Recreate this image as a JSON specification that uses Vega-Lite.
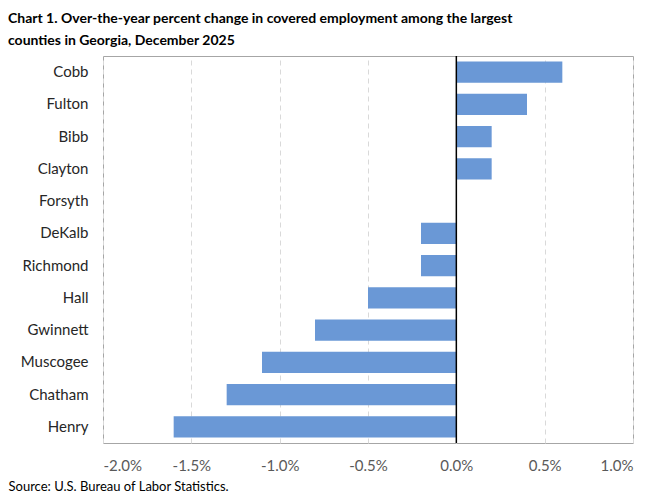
{
  "$schema": "https://vega.github.io/schema/vega-lite/v6.json",
  "width": 530,
  "height": 387,
  "autosize": "none",
  "padding": {"left": 103, "top": 56, "right": 27, "bottom": 50},
  "background": "white",
  "config": {
    "font": "Lato",
    "view": {"stroke": "#a6a6a6", "strokeWidth": 1}
  },
  "title": {
    "text": ["Chart 1. Over-the-year percent change in covered employment among the largest", "counties in Georgia, December 2025"],
    "anchor": "start",
    "frame": "group",
    "dx": -95,
    "dy": 18,
    "font": "Lato",
    "fontSize": 14,
    "fontWeight": "bold",
    "color": "#000000",
    "lineHeight": 22,
    "baseline": "bottom",
    "offset": 11
  },
  "data": {
    "values": [
      {"county": "Cobb", "change": 0.6},
      {"county": "Fulton", "change": 0.4},
      {"county": "Bibb", "change": 0.2},
      {"county": "Clayton", "change": 0.2},
      {"county": "Forsyth", "change": 0.0},
      {"county": "DeKalb", "change": -0.2},
      {"county": "Richmond", "change": -0.2},
      {"county": "Hall", "change": -0.5},
      {"county": "Gwinnett", "change": -0.8},
      {"county": "Muscogee", "change": -1.1},
      {"county": "Chatham", "change": -1.3},
      {"county": "Henry", "change": -1.6}
    ]
  },
  "layer": [
    {
      "mark": {"type": "bar", "color": "#6a98d6"},
      "encoding": {
        "y": {
          "field": "county",
          "type": "nominal",
          "sort": null,
          "scale": {"paddingInner": 0.34, "paddingOuter": 0.17},
          "axis": {
            "title": null,
            "domain": false,
            "ticks": false,
            "labelPadding": 15,
            "labelFontSize": 15,
            "labelColor": "#262626",
            "labelFont": "Lato"
          }
        },
        "x": {
          "field": "change",
          "type": "quantitative",
          "scale": {"domain": [-2, 1], "nice": false, "zero": false},
          "axis": {
            "values": [-2, -1.5, -1, -0.5, 0, 0.5, 1],
            "labelExpr": "(datum.value < 0 ? '-' : '') + format(abs(datum.value), '.1f') + '%'",
            "domain": false,
            "ticks": false,
            "grid": true,
            "gridColor": "#d9d9d9",
            "gridDash": [5, 4],
            "labelPadding": 15,
            "labelFontSize": 15,
            "labelColor": "#595959",
            "labelFont": "Lato",
            "title": "Source: U.S. Bureau of Labor Statistics.",
            "titleAnchor": "start",
            "titleAlign": "left",
            "titleX": -95,
            "titleY": 50,
            "titleBaseline": "bottom",
            "titleFontSize": 13,
            "titleFontWeight": "normal",
            "titleFont": "Lato",
            "titleColor": "#000000"
          }
        }
      }
    },
    {
      "data": {"values": [{"zero": 0}]},
      "mark": {"type": "rule", "color": "#000000", "strokeWidth": 1.5},
      "encoding": {
        "x": {"field": "zero", "type": "quantitative"}
      }
    }
  ]
}
